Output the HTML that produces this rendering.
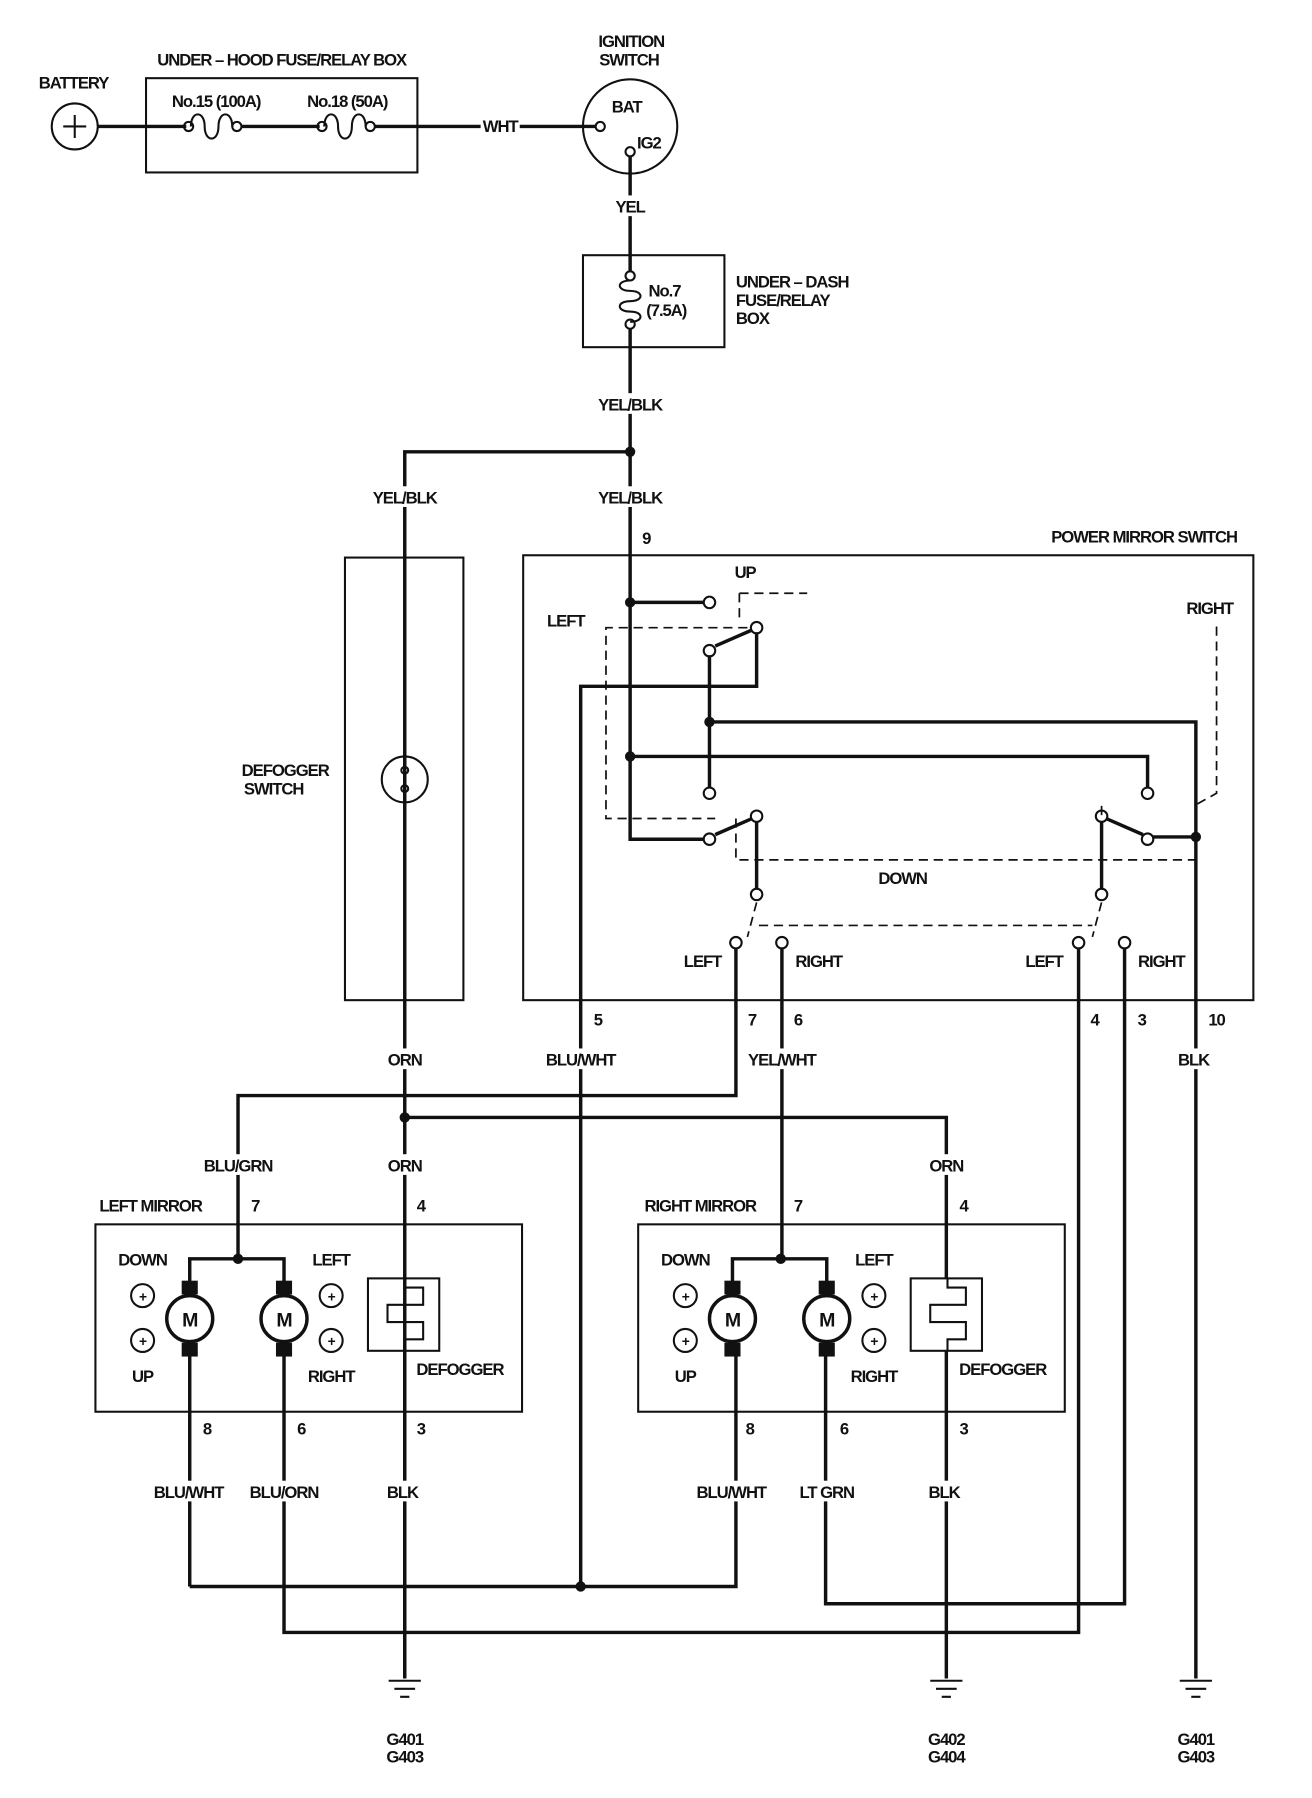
<!DOCTYPE html>
<html><head><meta charset="utf-8"><style>
html,body{margin:0;padding:0;background:#fff}
svg{display:block}
text{font-family:"Liberation Sans",sans-serif;font-size:14.5px;font-weight:bold;fill:#111;letter-spacing:-0.9px;text-anchor:middle}
.l{text-anchor:start}
.w{fill:none;stroke:#111;stroke-width:3}
.t{fill:none;stroke:#111;stroke-width:1.8}
.d{fill:none;stroke:#111;stroke-width:1.5;stroke-dasharray:8 5}
.bg{fill:#fff;stroke:none}
</style></head><body>
<svg width="1312" height="1798" viewBox="0 0 1141 1564" preserveAspectRatio="none" xmlns="http://www.w3.org/2000/svg">
<circle cx="65" cy="110" r="20" class="t"/>
<path d="M55 110h20M65 100v20" class="t"/>
<text x="64" y="77">BATTERY</text>
<path d="M85 110H127" class="w"/>
<rect x="127" y="68" width="236" height="82" class="t"/>
<text x="245" y="57">UNDER – HOOD FUSE/RELAY BOX</text>
<text x="188" y="93">No.15 (100A)</text>
<text x="302" y="93">No.18 (50A)</text>
<path d="M127 110H162M210 110H278M326 110H363" class="w"/>
<path d="M166 110c0-14 12-14 12 0s12 14 12 0 12-14 12 0" class="t"/>
<path d="M282 110c0-14 12-14 12 0s12 14 12 0 12-14 12 0" class="t"/>
<circle cx="164" cy="110" r="4" class="t"/><circle cx="206" cy="110" r="4" class="t"/>
<circle cx="280" cy="110" r="4" class="t"/><circle cx="322" cy="110" r="4" class="t"/>
<path d="M363 110H518" class="w"/>
<rect x="418" y="100" width="34" height="18" class="bg"/>
<text x="435" y="115">WHT</text>
<circle cx="548" cy="110" r="41" class="t"/>
<circle cx="522" cy="110" r="4" class="t" fill="#fff"/>
<circle cx="548" cy="132" r="4" class="t" fill="#fff"/>
<text x="532" y="98" class="l">BAT</text>
<text x="554" y="129" class="l">IG2</text>
<text x="549" y="41">IGNITION</text>
<text x="547" y="57">SWITCH</text>
<path d="M548 136V236" class="w"/>
<rect x="530" y="170" width="36" height="18" class="bg"/>
<text x="548" y="185">YEL</text>
<rect x="507" y="222" width="123" height="80" class="t"/>
<circle cx="548" cy="240" r="4" class="t"/><circle cx="548" cy="282" r="4" class="t"/>
<path d="M548 244c-12 0-12 9 0 9s12 9 0 9-12 9 0 9 12 9 0 9" class="t"/>
<text x="564" y="258" class="l">No.7</text>
<text x="562" y="275" class="l">(7.5A)</text>
<text x="640" y="250" class="l">UNDER – DASH</text>
<text x="640" y="266" class="l">FUSE/RELAY</text>
<text x="640" y="282" class="l">BOX</text>
<path d="M548 286V730H612" class="w"/>
<path d="M548 393H352V1460" class="w"/>
<circle cx="548" cy="393" r="4.5" fill="#111"/>
<rect x="515" y="342" width="66" height="18" class="bg"/><text x="548" y="357">YEL/BLK</text>
<rect x="515" y="423" width="66" height="18" class="bg"/><text x="548" y="438">YEL/BLK</text>
<rect x="319" y="423" width="66" height="18" class="bg"/><text x="352" y="438">YEL/BLK</text>
<text x="562" y="473">9</text>
<rect x="300" y="485" width="103" height="385" class="t"/>
<circle cx="352" cy="678" r="20" class="t" fill="#fff"/>
<path d="M352 658V698" class="w"/>
<circle cx="352" cy="670" r="3" class="t" fill="#fff"/><circle cx="352" cy="686" r="3" class="t" fill="#fff"/>
<text x="248" y="675">DEFOGGER</text>
<text x="238" y="691">SWITCH</text>
<rect x="455" y="483" width="635" height="387" class="t"/>
<text x="995" y="472">POWER MIRROR SWITCH</text>
<path d="M548 524H612" class="w"/>
<circle cx="548" cy="524" r="4.5" fill="#111"/>
<path d="M548 658H998V686" class="w"/>
<circle cx="548" cy="658" r="4.5" fill="#111"/>
<path d="M617 570V686" class="w"/>
<path d="M617 628H1040V1460" class="w"/>
<circle cx="617" cy="628" r="4.5" fill="#111"/>
<path d="M658 550V597H505V1380" class="w"/>
<path d="M658 714V774" class="w"/>
<path d="M958 714V774" class="w"/>
<path d="M1002 728H1040" class="w"/>
<circle cx="1040" cy="728" r="4.5" fill="#111"/>
<path d="M654 548L622 562M654 712L622 726M962 712L994 726" class="w"/>
<g fill="#fff" class="t">
<circle cx="617" cy="524" r="5"/><circle cx="658" cy="546" r="5"/><circle cx="617" cy="566" r="5"/>
<circle cx="617" cy="690" r="5"/><circle cx="658" cy="710" r="5"/><circle cx="617" cy="730" r="5"/>
<circle cx="998" cy="690" r="5"/><circle cx="958" cy="710" r="5"/><circle cx="998" cy="730" r="5"/>
<circle cx="658" cy="778" r="5"/><circle cx="640" cy="820" r="5"/><circle cx="680" cy="820" r="5"/>
<circle cx="958" cy="778" r="5"/><circle cx="938" cy="820" r="5"/><circle cx="978" cy="820" r="5"/>
</g>
<path d="M643 516H702M643 516V540" class="d"/>
<path d="M650 546H527V712H622" class="d"/>
<path d="M640 712V748H1040M958 748V700" class="d"/>
<path d="M1058 545V690L1040 700" class="d"/>
<path d="M658 785L650 815M958 785L950 815M660 805H950" class="d"/>
<text x="648" y="503">UP</text>
<text x="492" y="545">LEFT</text>
<text x="1052" y="534">RIGHT</text>
<text x="785" y="769">DOWN</text>
<text x="611" y="841">LEFT</text>
<text x="712" y="841">RIGHT</text>
<text x="908" y="841">LEFT</text>
<text x="1010" y="841">RIGHT</text>
<path d="M640 825V953H207V1095" class="w"/>
<path d="M680 825V1095" class="w"/>
<path d="M938 825V1420H247V1170" class="w"/>
<path d="M978 825V1395H718V1170" class="w"/>
<text x="520" y="892">5</text><text x="654" y="892">7</text><text x="694" y="892">6</text>
<text x="952" y="892">4</text><text x="993" y="892">3</text><text x="1058" y="892">10</text>
<rect x="470" y="912" width="70" height="18" class="bg"/><text x="505" y="927">BLU/WHT</text>
<rect x="645" y="912" width="70" height="18" class="bg"/><text x="680" y="927">YEL/WHT</text>
<rect x="1020" y="912" width="36" height="18" class="bg"/><text x="1038" y="927">BLK</text>
<rect x="334" y="912" width="36" height="18" class="bg"/><text x="352" y="927">ORN</text>
<path d="M352 972H823V1112" class="w"/>
<circle cx="352" cy="972" r="4.5" fill="#111"/>
<rect x="174" y="1004" width="66" height="18" class="bg"/><text x="207" y="1019">BLU/GRN</text>
<rect x="334" y="1004" width="36" height="18" class="bg"/><text x="352" y="1019">ORN</text>
<rect x="805" y="1004" width="36" height="18" class="bg"/><text x="823" y="1019">ORN</text>
<text x="222" y="1054">7</text><text x="366" y="1054">4</text>
<text x="694" y="1054">7</text><text x="838" y="1054">4</text>
<text x="131" y="1054">LEFT MIRROR</text>
<text x="609" y="1054">RIGHT MIRROR</text>
<path d="M165 1380H640V1170" class="w"/>
<circle cx="505" cy="1380" r="4.5" fill="#111"/>
<g>
<rect x="83" y="1065" width="371" height="163" class="t"/>
<path d="M165 1115V1095H247V1115M165 1170V1380M247 1170V1175" class="w"/>
<circle cx="207" cy="1095" r="4.5" fill="#111"/>
<rect x="158" y="1114" width="14" height="12" fill="#111"/><rect x="158" y="1168" width="14" height="12" fill="#111"/>
<rect x="240" y="1114" width="14" height="12" fill="#111"/><rect x="240" y="1168" width="14" height="12" fill="#111"/>
<circle cx="165" cy="1147" r="20" class="w" fill="#fff"/><circle cx="247" cy="1147" r="20" class="w" fill="#fff"/>
<text x="165" y="1154" style="font-size:17px">M</text>
<text x="247" y="1154" style="font-size:17px">M</text>
<rect x="320" y="1112" width="62" height="63" class="t"/>
<path d="M352 1112V1120H368V1135H337V1150H368V1165H352V1175" class="t"/>
<path d="M352 1175V1460" class="w"/>
<g class="t"><circle cx="124" cy="1127" r="10"/><circle cx="124" cy="1166" r="10"/><circle cx="288" cy="1127" r="10"/><circle cx="288" cy="1166" r="10"/></g>
<text x="124" y="1132" style="font-size:12px">+</text><text x="124" y="1171" style="font-size:12px">+</text>
<text x="288" y="1132" style="font-size:12px">+</text><text x="288" y="1171" style="font-size:12px">+</text>
<text x="124" y="1101">DOWN</text><text x="124" y="1202">UP</text>
<text x="288" y="1101">LEFT</text><text x="288" y="1202">RIGHT</text>
<text x="400" y="1196">DEFOGGER</text>
<text x="180" y="1248">8</text><text x="262" y="1248">6</text><text x="366" y="1248">3</text>
</g>
<rect x="130" y="1288" width="68" height="18" class="bg"/><text x="164" y="1303">BLU/WHT</text>
<rect x="213" y="1288" width="68" height="18" class="bg"/><text x="247" y="1303">BLU/ORN</text>
<rect x="334" y="1288" width="34" height="18" class="bg"/><text x="350" y="1303">BLK</text>
<g transform="translate(472,0)">
<rect x="83" y="1065" width="371" height="163" class="t"/>
<path d="M165 1115V1095H247V1115M165 1170V1175M247 1170V1175" class="w"/>
<circle cx="207" cy="1095" r="4.5" fill="#111"/>
<rect x="158" y="1114" width="14" height="12" fill="#111"/><rect x="158" y="1168" width="14" height="12" fill="#111"/>
<rect x="240" y="1114" width="14" height="12" fill="#111"/><rect x="240" y="1168" width="14" height="12" fill="#111"/>
<circle cx="165" cy="1147" r="20" class="w" fill="#fff"/><circle cx="247" cy="1147" r="20" class="w" fill="#fff"/>
<text x="165" y="1154" style="font-size:17px">M</text>
<text x="247" y="1154" style="font-size:17px">M</text>
<rect x="320" y="1112" width="62" height="63" class="t"/>
<path d="M352 1112V1120H368V1135H337V1150H368V1165H352V1175" class="t"/>
<g class="t"><circle cx="124" cy="1127" r="10"/><circle cx="124" cy="1166" r="10"/><circle cx="288" cy="1127" r="10"/><circle cx="288" cy="1166" r="10"/></g>
<text x="124" y="1132" style="font-size:12px">+</text><text x="124" y="1171" style="font-size:12px">+</text>
<text x="288" y="1132" style="font-size:12px">+</text><text x="288" y="1171" style="font-size:12px">+</text>
<text x="124" y="1101">DOWN</text><text x="124" y="1202">UP</text>
<text x="288" y="1101">LEFT</text><text x="288" y="1202">RIGHT</text>
<text x="400" y="1196">DEFOGGER</text>
<text x="180" y="1248">8</text><text x="262" y="1248">6</text><text x="366" y="1248">3</text>
</g>
<path d="M823 1175V1460" class="w"/>
<rect x="602" y="1288" width="68" height="18" class="bg"/><text x="636" y="1303">BLU/WHT</text>
<rect x="690" y="1288" width="58" height="18" class="bg"/><text x="719" y="1303">LT GRN</text>
<rect x="805" y="1288" width="34" height="18" class="bg"/><text x="821" y="1303">BLK</text>
<g class="t">
<path d="M338 1462H366M343 1469H361M348 1476H356"/>
<path d="M809 1462H837M814 1469H832M819 1476H827"/>
<path d="M1026 1462H1054M1031 1469H1049M1036 1476H1044"/>
</g>
<text x="352" y="1518">G401</text><text x="352" y="1533">G403</text>
<text x="823" y="1518">G402</text><text x="823" y="1533">G404</text>
<text x="1040" y="1518">G401</text><text x="1040" y="1533">G403</text>
</svg>
</body></html>
